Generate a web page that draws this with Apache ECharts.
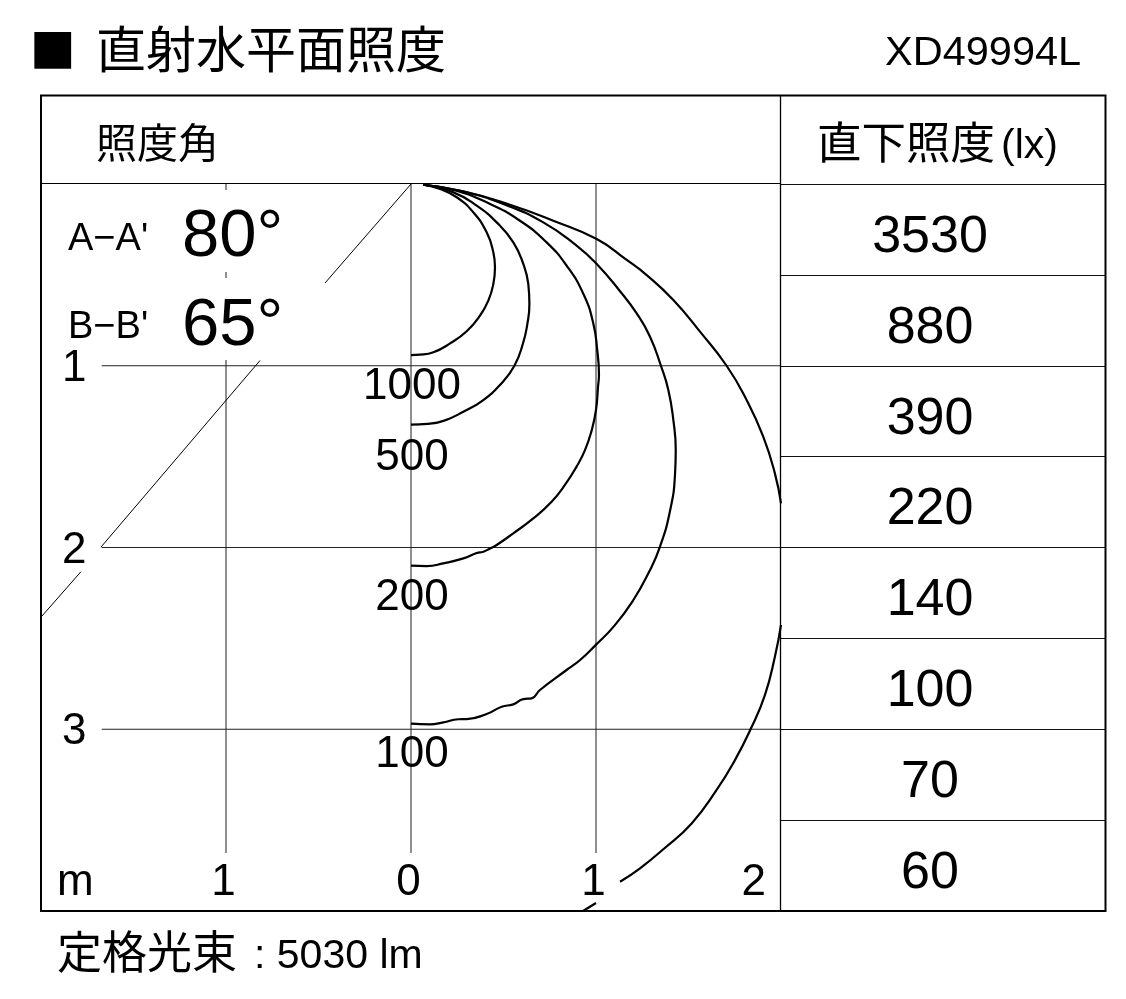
<!DOCTYPE html>
<html lang="ja">
<head>
<meta charset="utf-8">
<title>直射水平面照度</title>
<style>html,body{margin:0;padding:0;background:#fff}#chart{width:1126px;height:999px}</style>
<script src="https://cdn.jsdelivr.net/npm/echarts@6/dist/echarts.min.js"></script>
</head>
<body>
<div id="chart"></div>
<script>
// Isolux curves: [metres sideways, metres down]; null marks a break hidden by a label or the frame.
const curve1000 = [[0.067,0.004],[0.157,0.028],[0.247,0.073],[0.337,0.156],[0.409,0.266],[0.445,0.376],[0.454,0.458],[0.445,0.550],[0.418,0.642],[0.373,0.724],[0.301,0.810],[0.211,0.877],[0.121,0.926],[0.049,0.939],[0,0.941]];
const curve500 = [[0.067,0.004],[0.229,0.046],[0.355,0.119],[0.463,0.211],[0.553,0.321],[0.607,0.440],[0.634,0.550],[0.640,0.660],[0.629,0.770],[0.606,0.875],[0.559,1.000],[0.486,1.100],[0.387,1.192],[0.288,1.250],[0.180,1.302],[0.090,1.320],[0,1.324]];
const curve200 = [[0.067,0.004],[0.229,0.033],[0.409,0.101],[0.589,0.202],[0.733,0.321],[0.841,0.449],[0.932,0.605],[0.986,0.770],[1.007,0.917],[1.016,1.050],[1.011,1.115],[1.000,1.243],[0.977,1.354],[0.941,1.463],[0.895,1.555],[0.832,1.656],[0.760,1.748],[0.661,1.840],[0.553,1.922],[0.463,1.986],[0.427,2.005],[0.391,2.023],[0.355,2.030],[0.283,2.060],[0.175,2.087],[0.085,2.102],[0,2.100]];
const curve100 = [[0.067,0.004],[0.265,0.037],[0.499,0.110],[0.715,0.211],[0.895,0.339],[1.004,0.440],[1.130,0.590],[1.220,0.712],[1.292,0.840],[1.351,1.000],[1.391,1.133],[1.418,1.298],[1.431,1.464],[1.427,1.600],[1.402,1.790],[1.346,1.995],[1.283,2.142],[1.202,2.289],[1.100,2.430],[0.995,2.540],[0.914,2.619],[0.841,2.674],[0.697,2.784],[0.652,2.830],[0.607,2.834],[0.553,2.863],[0.490,2.876],[0.409,2.916],[0.301,2.944],[0.256,2.945],[0.175,2.962],[0.103,2.973],[0,2.969]];
const curve50 = [[0.067,0.004],[0.283,0.040],[0.535,0.114],[0.769,0.202],[1.004,0.303],[1.166,0.418],[1.274,0.501],[1.418,0.638],[1.562,0.812],[1.706,1.000],[1.814,1.188],[1.904,1.390],[1.967,1.592],[2.0,1.757],null,[2.0,2.426],[1.967,2.601],[1.913,2.812],[1.836,2.999],[1.751,3.170],[1.652,3.334],[1.517,3.518],[1.364,3.660],[1.238,3.765],[1.130,3.839],null,[1.0,3.956],[0.930,4.0]];
const isoCurves = [curve1000, curve500, curve200, curve100, curve50];

const contourValues = [1000, 500, 200, 100];
const contourLabelDepth = [1.10, 1.49, 2.26, 3.125];

// Beam-angle guide (half of 80°) and grid guides, broken where the reference leaves room for text.
const beamGuide = [[0,0],[-0.465,0.545],null,[-0.816,0.971],[-1.676,1.998],null,[-1.784,2.133],[-2,2.383]];
const verticalGuides = [
  [[-1,0],[-1,0.033],null,[-1,0.484],[-1,0.517],null,[-1,0.968],[-1,3.681]],
  [[0,0],[0,3.681]],
  [[1,0],[1,3.681]]
];
const horizontalGuides = [[[-1.672,1],[2,1]],[[-1.672,2],[2,2]],[[-1.672,3],[2,3]]];

const distanceLabels = ['1','2','3'];
const widthLabels = {'-2':'{m|m}','-1':'{c|1}','0':'{c|0}','1':'{c|1}','2':'{r|2}'};

const directDistance = ['1m','2m','3m','4m','5m','6m','7m','8m'];
const directLux = [3530, 880, 390, 220, 140, 100, 70, 60];

const titleText = '直射水平面照度';
const modelText = 'XD49994L';
const angleHeader = '照度角';
const luxHeader = '直下照度';
const luxUnit = '(lx)';
const beamNames = ["A−A'", "B−B'"];
const beamAngles = ['80°', '65°'];
const fluxLabel = '定格光束';
const fluxValue = ': 5030 lm';

const FONT = '"Liberation Sans","Noto Sans CJK JP",sans-serif';
const toSeriesData = pts => pts.map(p => p === null ? ['-','-'] : p);
const guide = (pts, width, color) => ({
  type:'line', xAxisIndex:0, yAxisIndex:0, data:toSeriesData(pts), showSymbol:false, symbol:'none',
  silent:true, connectNulls:false, lineStyle:{color:color, width:width}, z:2
});
const txt = (x, y, text, size, extra) => ({
  type:'text', x:x, y:y, silent:true, z:20,
  style:Object.assign({text:text, font:size+'px '+FONT, fill:'#000', textVerticalAlign:'middle', textAlign:'left'}, extra||{})
});
const hline = (x1,x2,y,w) => ({type:'line', silent:true, z:15, shape:{x1:x1,y1:y,x2:x2,y2:y}, style:{stroke:'#000',lineWidth:w}});
const vline = (x,y1,y2,w) => ({type:'line', silent:true, z:15, shape:{x1:x,y1:y1,x2:x,y2:y2}, style:{stroke:'#000',lineWidth:w}});

const series = [];
verticalGuides.forEach(g => series.push(guide(g, 1.1, '#333')));
horizontalGuides.forEach(g => series.push(guide(g, 1.1, '#222')));
series.push(guide(beamGuide, 1, '#000'));
isoCurves.forEach(c => series.push(Object.assign(guide(c, 2.2, '#000'), {smooth:0.5, z:4})));
series.push({
  type:'scatter', xAxisIndex:0, yAxisIndex:0, symbolSize:0, silent:true, z:6, itemStyle:{opacity:1},
  data:contourValues.map((v,i)=>({value:[0.005,contourLabelDepth[i]], name:String(v)})),
  label:{show:true, position:'inside', offset:[0,3], formatter:p=>p.name, fontFamily:FONT, fontSize:44, color:'#000', opacity:1}
});
series.push({
  type:'scatter', xAxisIndex:1, yAxisIndex:1, symbolSize:0, silent:true, z:6, itemStyle:{opacity:1},
  data:directLux.map((v,i)=>[0.46,i,v]),
  label:{show:true, position:'inside', offset:[0,8], formatter:p=>String(p.value[2]), fontFamily:FONT, fontSize:52, color:'#000', opacity:1}
});

const labelRich = {fontFamily:FONT,fontSize:44,color:'#000'};
const chart = echarts.init(document.getElementById('chart'), null, {renderer:'canvas'});
chart.setOption({
  animation:false,
  backgroundColor:'#fff',
  tooltip:{show:false},
  legend:{show:false},
  grid:[
    {left:41, top:184, width:740, height:727, containLabel:false},
    {left:781, top:184, width:324, height:727, containLabel:false}
  ],
  xAxis:[
    {type:'value', gridIndex:0, min:-2, max:2, interval:1, position:'bottom',
     axisLine:{show:false}, axisTick:{show:false}, splitLine:{show:false},
     axisLabel:{show:true, inside:true, margin:6, color:'#000', fontFamily:FONT, fontSize:44,
       showMinLabel:true, showMaxLabel:true, alignMinLabel:'left', alignMaxLabel:'right',
       formatter:v=>widthLabels[String(v)]||'',
       rich:{
         m:Object.assign({padding:[0,0,0,16]},labelRich),
         r:Object.assign({padding:[0,15,0,0]},labelRich),
         c:Object.assign({padding:[0,5,0,0]},labelRich)
       }}},
    {type:'value', gridIndex:1, min:0, max:1, show:false}
  ],
  yAxis:[
    {type:'value', gridIndex:0, min:0, max:4, interval:1, inverse:true,
     axisLine:{show:false}, axisTick:{show:false}, splitLine:{show:false},
     axisLabel:{show:true, inside:true, margin:21, color:'#000', fontFamily:FONT, fontSize:44,
       showMinLabel:true, showMaxLabel:true,
       formatter:v=>distanceLabels[v-1] ? '{d|'+distanceLabels[v-1]+'}' : '',
       rich:{d:Object.assign({padding:[6,0,0,0]},labelRich)}}},
    {type:'category', gridIndex:1, data:directDistance, inverse:true,
     axisLine:{show:false}, axisTick:{show:false}, axisLabel:{show:false},
     splitLine:{show:true, interval:0, lineStyle:{color:'#111', width:1}}}
  ],
  series:series,
  graphic:[
    txt(30, 52, '■', 76),
    txt(96, 54, titleText, 50),
    txt(885, 54, modelText, 41.5),
    txt(96, 147, angleHeader, 41),
    txt(817, 147, luxHeader, 44.5),
    txt(1001, 147, luxUnit, 41),
    txt(68, 240, beamNames[0], 38),
    txt(68, 328, beamNames[1], 38),
    txt(182, 238, beamAngles[0], 67),
    txt(182, 327, beamAngles[1], 67),
    txt(57, 957, fluxLabel, 45),
    txt(254, 957, fluxValue, 41),
    {type:'rect', silent:true, z:15, shape:{x:41,y:95.5,width:1064.5,height:815.5}, style:{fill:'none',stroke:'#000',lineWidth:2}},
    vline(780.5,95,911,1.3),
    hline(41,780,183.5,1.2)
  ]
});
</script>
</body>
</html>
